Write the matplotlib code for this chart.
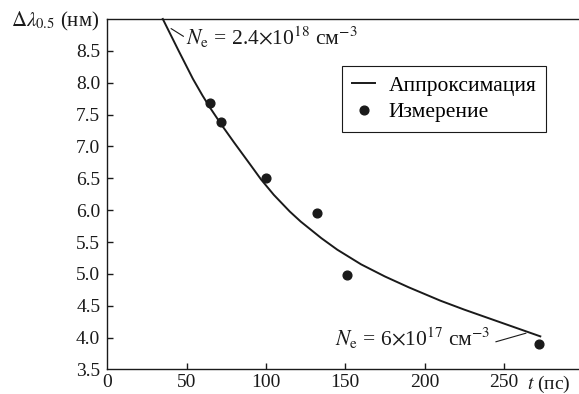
import numpy as np
import matplotlib
matplotlib.use('Agg')
import matplotlib.pyplot as plt

plt.rcParams['font.family'] = ['Liberation Serif', 'DejaVu Serif']
plt.rcParams['mathtext.fontset'] = 'stix'
plt.rcParams['font.size'] = 14

# аппроксимация
fit_t = [35, 45, 54, 60, 65, 72, 80, 90, 97, 105, 115, 122, 135, 145, 160, 175, 190, 210, 225, 241, 257, 273]
fit_y = [9.0, 8.50, 8.06, 7.80, 7.60, 7.34, 7.06, 6.72, 6.48, 6.24, 5.98, 5.82, 5.56, 5.38,
         5.15, 4.96, 4.79, 4.58, 4.44, 4.30, 4.16, 4.02]

# измерения
meas_t = [65, 72, 100, 132, 151, 272]
meas_y = [7.68, 7.38, 6.5, 5.95, 4.99, 3.9]

xticks = [0, 50, 100, 150, 200, 250]
yticks = [3.5, 4.0, 4.5, 5.0, 5.5, 6.0, 6.5, 7.0, 7.5, 8.0, 8.5]

fig = plt.figure(figsize=(5.79, 3.94), dpi=100)
ax = fig.add_axes([0.1853, 0.0622, 1 - 0.1853, 0.8896])

ax.plot(fit_t, fit_y, color='#1a1a1a', lw=1.4, label='Аппроксимация', clip_on=False)
ax.plot(meas_t, meas_y, 'o', color='#1a1a1a', ms=6.3, label='Измерение', clip_on=False)

ax.set_xlim(0, 297.4)
ax.set_ylim(3.5, 9.0)
ax.set_xticks(xticks)
ax.set_xticklabels([str(v) for v in xticks])
ax.set_yticks(yticks)
ax.set_yticklabels(['%.1f' % v for v in yticks])
ax.tick_params(direction='in', length=4.5, width=1.0, colors='#1a1a1a', labelcolor='#1a1a1a')
ax.tick_params(axis='y', pad=5)
ax.tick_params(axis='x', pad=3)
for t in ax.yaxis.get_major_ticks()[:1] + ax.xaxis.get_major_ticks()[:1]:
    t.tick1line.set_visible(False)

ax.spines['right'].set_visible(False)
for s in ['left', 'bottom', 'top']:
    ax.spines[s].set_linewidth(1.0)
    ax.spines[s].set_color('#1a1a1a')

# подписи осей
ax.text(-0.016, 0.992, r'$\Delta\lambda_{0.5}$ (нм)', transform=ax.transAxes,
        ha='right', va='center', color='#1a1a1a', fontsize=15)
ax.text(0.889, -0.012, r'$t$ (пс)', transform=ax.transAxes,
        ha='left', va='top', color='#1a1a1a', fontsize=14)

# аннотации
ax.annotate(r'$N_\mathrm{e}$ = 2.4$\times$10$^{18}$ см$^{-3}$', xy=(40.2, 8.85),
            xytext=(49.8, 8.72), ha='left', va='center', color='#1a1a1a', fontsize=15.5,
            arrowprops=dict(arrowstyle='-', lw=0.8, color='#1a1a1a', shrinkA=0, shrinkB=0,
                            relpos=(0, 0.45)))
ax.annotate(r'$N_\mathrm{e}$ = 6$\times$10$^{17}$ см$^{-3}$', xy=(264, 4.07),
            xytext=(241.5, 3.99), ha='right', va='center', color='#1a1a1a', fontsize=15.5,
            arrowprops=dict(arrowstyle='-', lw=0.8, color='#1a1a1a', shrinkA=2, shrinkB=0,
                            relpos=(1, 0.3)))

leg = ax.legend(loc='upper left', bbox_to_anchor=(0.4976, 0.866), borderaxespad=0,
                frameon=True, fancybox=False, edgecolor='#1a1a1a', handlelength=1.1,
                handletextpad=0.6, borderpad=0.45, labelspacing=0.3, framealpha=1,
                fontsize=15.5)
leg.get_frame().set_linewidth(0.8)

fig.savefig('out.png', dpi=100)
